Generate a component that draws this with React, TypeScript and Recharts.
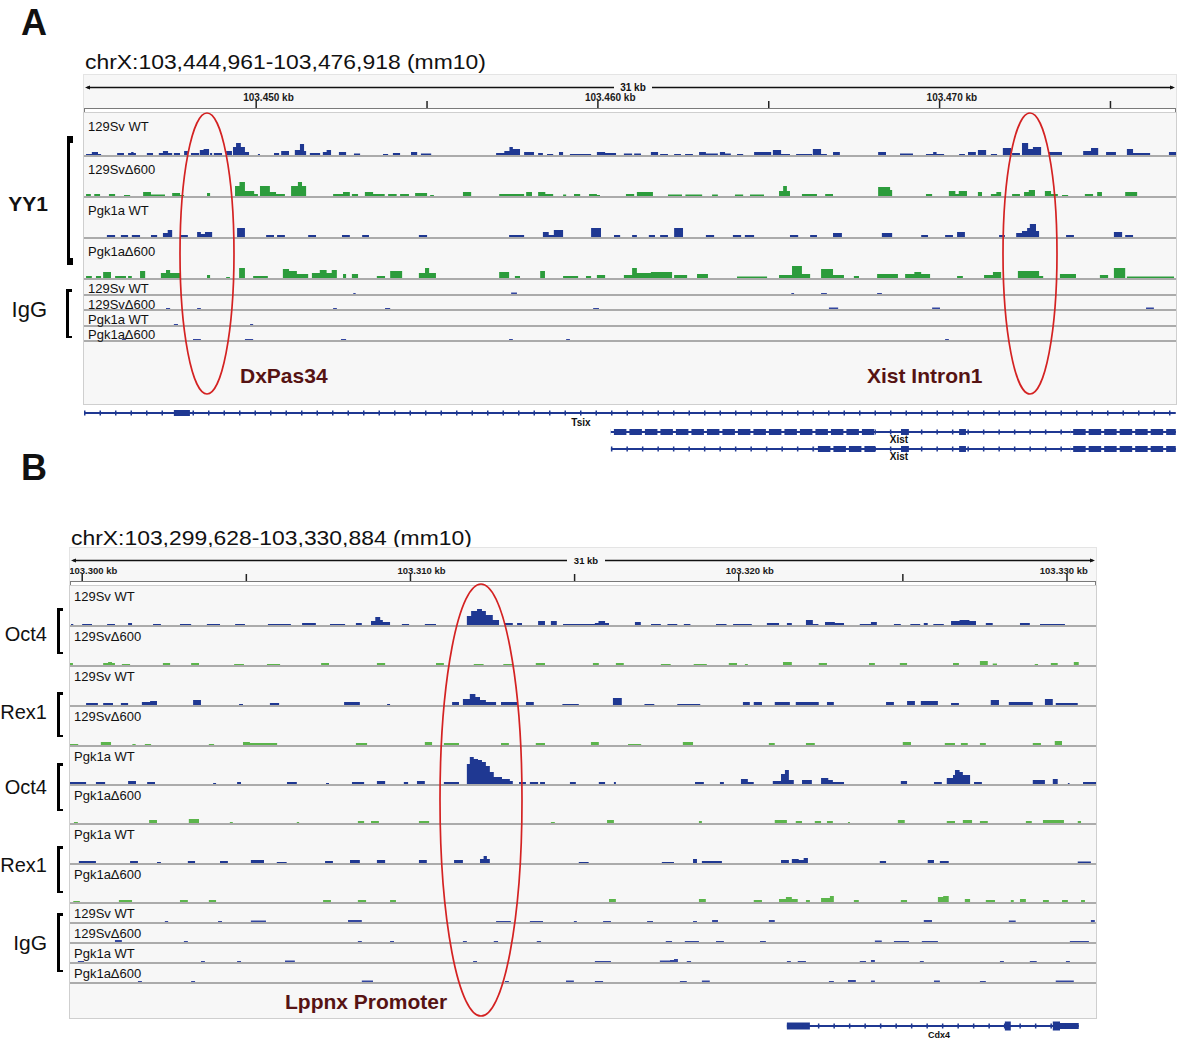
import React from "react";
import {
  AreaChart,
  Area,
  ComposedChart,
  Line,
  XAxis,
  YAxis,
  ReferenceArea,
  ReferenceLine,
} from "recharts";

const FONT = "'Liberation Sans', Arial, Helvetica, sans-serif";

// genomic windows (kb on chrX, mm10)
const A_START = 103444.961;
const A_END = 103476.918;
const A_TICKS = [103450, 103455, 103460, 103465, 103470, 103475];
const B_START = 103299.628;
const B_END = 103330.884;
const B_TICKS = [103300, 103305, 103310, 103315, 103320, 103325, 103330];

// coverage: [kb from window start, signal] — signal holds until the next point
const aYy1Wt129 = [[0.06,1],[0.23,3],[0.41,1],[0.5,0],[0.97,2],[1.17,0],[1.29,2],[1.38,3],[1.45,2],[1.52,0],[1.84,2],[2.02,0],[2.19,2],[2.31,4],[2.46,2],[2.58,0],[2.63,2],[2.81,0],[2.93,4],[3.04,0],[3.13,2],[3.37,0],[3.39,5],[3.5,6],[3.66,0],[3.69,2],[3.75,0],[3.8,2],[4.04,0],[4.16,4],[4.33,0],[4.36,8],[4.45,12],[4.59,8],[4.71,3],[4.83,0],[5.09,1],[5.15,0],[5.56,2],[5.71,0],[5.77,4],[6.0,0],[6.17,5],[6.32,11],[6.44,4],[6.5,0],[6.61,2],[6.91,0],[6.99,3],[7.1,5],[7.23,0],[7.46,3],[7.67,0],[7.9,1.5],[8.08,0],[8.75,1],[8.9,0],[9.04,2],[9.25,0],[9.57,3],[9.75,0],[9.86,1.5],[10.16,0],[12.06,2],[12.3,4],[12.45,8],[12.55,6],[12.76,0],[12.88,3],[13.17,0],[13.29,2],[13.43,0],[13.55,1],[13.73,0],[13.9,3],[14.02,0],[14.22,1],[14.84,0],[15.01,3],[15.25,2],[15.57,0],[15.8,1.5],[16.04,0],[16.1,1.5],[16.3,0],[16.59,3],[16.8,0],[16.86,1],[17.09,0],[17.27,1],[17.47,0],[17.59,1],[17.82,0],[18.0,3],[18.2,1.5],[18.55,0],[18.61,3],[18.76,1.5],[18.93,0],[19.11,1],[19.29,0],[19.61,3],[20.11,0],[20.16,5],[20.4,1],[20.66,0],[20.84,1],[21.31,0],[21.33,6],[21.57,1],[21.74,0],[21.92,3],[22.12,0],[23.24,3],[23.47,0],[23.88,1.5],[24.26,0],[24.64,1],[24.85,3],[24.95,1],[25.17,0],[25.61,1],[25.78,0],[25.87,3],[26.1,0],[26.16,5],[26.4,0],[26.54,1],[26.72,0],[26.89,7],[27.13,0],[27.16,2],[27.39,0],[27.45,12],[27.63,6],[27.77,8],[28.01,0],[28.24,3],[28.62,0],[29.24,4],[29.47,7],[29.68,0],[29.91,3],[30.2,0],[30.52,6],[30.7,2],[31.2,0],[31.75,3]];
const aYy1D129 = [[0.06,2],[0.2,0],[0.3,2],[0.47,0],[0.73,2],[0.91,0],[1.17,1],[1.35,0],[1.73,4],[1.96,1.5],[2.37,0],[2.58,3],[2.81,1],[2.93,0],[3.6,3],[3.69,0],[4.42,10],[4.55,14],[4.71,5],[4.98,2],[5.09,0],[5.15,10],[5.44,4],[5.62,2],[5.88,0],[6.06,10],[6.26,14],[6.38,10],[6.5,0],[7.29,2],[7.58,4],[7.78,0],[7.84,2],[8.02,0],[8.22,4],[8.46,2],[8.8,0],[8.9,2],[9.15,0],[9.25,2],[9.51,0],[9.69,3],[10.04,0],[10.13,1],[10.24,0],[11.09,4],[11.33,0],[12.15,2],[12.88,0],[12.94,4],[13.11,0],[13.29,4],[13.5,2],[13.73,0],[14.02,1.5],[14.11,0],[14.34,2],[14.52,0],[14.78,2],[15.01,1],[15.1,0],[15.86,2],[16.1,0],[16.18,4],[16.65,0],[17.09,1.5],[17.5,0],[17.6,1.5],[18.09,0],[18.38,1.5],[18.55,0],[19.05,1.5],[19.29,0],[19.49,1.5],[19.9,0],[20.34,5],[20.46,10],[20.57,5],[20.66,0],[21.01,2],[21.45,0],[21.69,2],[21.92,0],[23.24,9],[23.59,6],[23.65,0],[24.64,2],[24.82,0],[25.31,5],[25.5,2],[25.6,5],[25.84,0],[26.16,4],[26.28,0],[26.54,2],[26.7,4],[26.84,0],[27.16,2],[27.39,0],[27.51,4],[27.65,6],[27.83,0],[28.12,5],[28.3,2],[28.5,0],[28.62,1],[28.8,0],[29.29,2],[29.53,0],[29.65,4],[29.79,0],[30.47,4],[30.82,0]];
const aYy1WtPgk = [[0.67,2],[0.91,0],[1.08,2],[1.29,0],[1.4,2],[1.64,0],[1.96,2],[2.14,0],[2.31,4],[2.45,7],[2.58,0],[2.81,2],[3.04,0],[3.31,5],[3.42,3],[3.54,5],[3.75,0],[4.48,9],[4.71,0],[5.33,2],[5.56,0],[5.65,2],[5.88,0],[6.56,2],[6.79,0],[7.55,2],[7.78,0],[8.14,2],[8.34,0],[9.8,2],[10.04,0],[12.44,2],[12.88,0],[13.43,5],[13.6,2],[13.75,7],[14.02,0],[14.84,9],[15.13,0],[15.51,2],[15.69,0],[16.04,2],[16.18,0],[16.53,2],[16.71,0],[16.86,2],[17.09,0],[17.27,9],[17.53,0],[18.2,2],[18.44,0],[18.99,2],[19.23,0],[19.34,2],[19.61,0],[20.66,2],[20.9,0],[21.25,2],[21.45,0],[21.92,4],[22.18,0],[23.35,4],[23.65,0],[24.5,2],[24.7,0],[25.2,2],[25.43,0],[25.55,5],[25.78,0],[26.78,2],[26.95,0],[27.28,4],[27.45,6],[27.6,9],[27.68,13],[27.86,6],[27.95,0],[28.74,2],[28.97,0],[30.14,5],[30.38,0],[30.47,2],[30.7,0]];
const aYy1DPgk = [[0.06,2],[0.23,0],[0.35,2],[0.5,0],[0.56,6],[0.79,0],[0.91,2],[1.23,0],[1.29,2],[1.4,0],[1.64,7],[1.79,0],[2.25,5],[2.4,8],[2.52,5],[2.81,0],[3.6,3],[3.69,0],[4.16,1],[4.27,0],[4.54,10],[4.71,0],[4.95,2],[5.38,0],[5.82,9],[6.0,7],[6.23,4],[6.56,0],[6.67,5],[6.9,8],[7.1,5],[7.25,8],[7.4,0],[7.58,4],[7.67,0],[7.84,4],[8.02,0],[8.57,2],[8.81,0],[8.96,7],[9.31,0],[9.8,5],[9.98,10],[10.1,5],[10.3,0],[12.15,6],[12.44,0],[12.61,2],[12.76,0],[13.35,7],[13.49,0],[14.02,2],[14.46,0],[14.69,2],[14.84,0],[15.01,3],[15.25,0],[15.8,3],[16.04,10],[16.18,5],[16.59,6],[17.21,0],[17.27,3],[17.65,0],[17.94,4],[18.26,0],[19.11,1.5],[19.99,0],[20.34,3],[20.72,12],[21.01,4],[21.25,0],[21.57,9],[21.92,3],[22.24,0],[22.53,2],[22.68,0],[23.21,4],[23.82,0],[24.03,4],[24.3,6],[24.5,4],[24.76,0],[25.55,2],[25.72,0],[26.34,3],[26.6,6],[26.84,0],[27.33,7],[27.95,2],[28.07,0],[28.56,4],[29.03,0],[29.73,3],[29.97,0],[30.14,10],[30.47,0],[30.52,1.5],[31.9,0]];
const aIggWt129 = [[7.88,1],[7.95,0],[12.5,1.5],[12.67,0],[20.7,1],[20.78,0],[21.57,1],[21.74,0],[23.21,1],[23.35,0]];
const aIggD129 = [[2.4,1],[2.52,0],[3.31,1],[3.42,0],[7.29,1],[7.4,0],[8.81,1],[8.96,0],[14.9,1],[15.07,0],[21.8,1.5],[22.07,0],[24.82,1.5],[25.05,0],[31.08,1.5],[31.31,0]];
const aIggWtPgk = [[2.63,1],[2.75,0],[4.86,1],[4.95,0]];
const aIggDPgk = [[1.11,1],[1.23,0],[3.19,1],[3.42,0],[4.71,1],[4.95,0],[7.52,1],[7.67,0],[12.44,1],[12.55,0],[14.11,1],[14.22,0],[25.2,1],[25.31,0]];

const bOct4Wt129 = [[0.03,1],[0.1,0],[0.37,1],[0.67,0],[1.13,1],[1.37,0],[1.77,2],[1.89,0],[2.53,1],[2.77,0],[3.35,1],[3.69,0],[4.17,1],[4.57,0],[5.03,1],[5.33,0],[6.03,1],[6.73,0],[7.07,2],[7.49,0],[7.92,1],[8.38,0],[8.71,2],[8.89,0],[9.17,4],[9.3,8],[9.45,5],[9.53,3],[9.75,0],[10.11,1],[10.33,0],[10.81,1],[11.15,0],[12.09,9],[12.22,14],[12.4,16],[12.55,14],[12.67,10],[12.88,5],[13.07,0],[13.25,2],[13.49,0],[13.62,2],[13.77,0],[14.26,4],[14.47,0],[14.65,4],[14.83,0],[15.02,1],[15.99,2],[16.1,4],[16.3,2],[16.42,0],[17.21,3],[17.39,0],[17.7,1],[18.0,0],[18.2,1],[18.5,0],[18.7,1],[18.9,0],[19.68,1],[20.0,0],[20.2,1],[20.77,0],[21.23,2],[21.6,0],[21.84,2],[21.99,0],[22.42,5],[22.63,1],[22.8,0],[23.0,3],[23.3,2],[23.58,0],[24.06,1],[24.4,3],[24.58,0],[25.1,1],[25.31,0],[25.6,1],[25.9,0],[26.01,2],[26.13,0],[26.3,1],[26.62,0],[26.84,4],[27.1,5],[27.4,4],[27.6,0],[27.9,2],[28.11,0],[28.94,2],[29.24,0],[29.55,1],[30.31,0]];
const bOct4D129 = [[0.0,2],[0.09,0],[1.01,2],[1.16,3],[1.28,2],[1.37,0],[1.58,1],[1.83,0],[2.83,2],[3.05,0],[3.69,2],[3.93,0],[5.0,1],[5.3,0],[6.0,1],[6.4,0],[7.65,2],[7.89,0],[9.35,2],[9.6,0],[11.15,2],[11.39,0],[12.3,1],[12.6,0],[13.2,1],[13.5,0],[14.19,2],[14.47,0],[15.93,2],[16.11,0],[16.63,2],[16.87,0],[18.0,1],[18.3,0],[19.0,1],[19.4,0],[20.07,2],[20.32,0],[20.56,1],[20.65,0],[21.72,3],[21.99,0],[22.81,2],[23.06,0],[24.34,2],[24.52,0],[25.28,2],[25.5,0],[26.9,2],[27.08,0],[27.72,4],[27.96,0],[28.11,1.5],[28.24,0],[29.39,1],[29.49,0],[29.88,2],[30.09,0],[30.58,3],[30.73,0]];
const bRex1Wt129 = [[0.49,2],[0.85,0],[1.01,2],[1.31,0],[1.55,2],[1.77,0],[2.19,3],[2.44,4],[2.65,0],[3.75,5],[3.99,0],[5.15,1],[5.27,0],[6.09,2],[6.37,0],[8.35,3],[8.83,0],[9.66,1],[9.75,0],[11.64,3],[11.85,0],[11.97,6],[12.18,11],[12.35,8],[12.49,5],[12.67,3],[12.98,0],[13.13,3],[13.62,0],[13.89,3],[14.13,0],[15.0,1],[15.5,0],[16.54,7],[16.81,0],[17.5,1],[17.8,0],[18.5,1],[19.2,0],[20.5,3],[20.71,0],[20.83,3],[21.08,0],[21.47,3],[21.93,0],[22.11,3],[22.81,0],[23.06,3],[23.27,0],[24.86,3],[25.1,0],[25.5,4],[25.74,0],[25.92,4],[26.44,0],[26.84,2],[27.08,0],[28.05,5],[28.3,0],[28.6,3],[29.33,0],[29.7,6],[29.94,0],[30.03,2],[30.7,0]];
const bRex1D129 = [[0.0,1],[0.25,0],[0.94,3],[1.25,0],[1.9,1],[2.0,0],[2.28,1],[2.47,0],[4.23,1],[4.39,0],[5.27,3],[5.48,2],[6.31,0],[8.71,2],[9.05,0],[10.81,3],[11.03,0],[11.39,2],[11.85,0],[13.13,2],[13.37,0],[14.19,2],[14.47,0],[15.87,3],[16.11,0],[17.0,1],[17.4,0],[18.67,3],[18.98,0],[21.29,2],[21.47,0],[22.42,2],[22.69,0],[25.37,3],[25.62,0],[26.65,2],[26.96,0],[27.14,2],[27.35,0],[27.72,2],[27.9,0],[29.33,2],[29.58,0],[30.0,4],[30.22,0]];
const bOct4WtPgk = [[0.0,2],[0.49,0],[0.79,2],[1.07,0],[1.77,3],[2.01,0],[2.35,2],[2.59,0],[4.36,1],[4.45,0],[5.09,2],[5.21,0],[6.61,2],[6.91,0],[7.8,1],[7.89,0],[8.59,2],[8.96,0],[9.35,3],[9.6,0],[10.17,2],[10.3,0],[10.57,3],[10.81,0],[11.39,2],[11.85,0],[12.09,20],[12.18,27],[12.3,25],[12.43,24],[12.55,22],[12.67,18],[12.79,12],[12.91,7],[13.16,5],[13.4,3],[13.49,0],[13.68,2],[13.89,0],[14.01,2],[14.26,0],[14.32,2],[14.47,0],[15.23,2],[15.41,0],[16.11,2],[16.3,0],[16.57,2],[16.63,0],[19.04,2],[19.31,0],[19.8,2],[19.92,0],[20.44,5],[20.65,2],[20.83,0],[21.41,3],[21.66,10],[21.78,14],[21.9,4],[22.05,0],[22.3,4],[22.6,0],[22.88,6],[23.1,4],[23.24,2],[23.58,0],[25.31,3],[25.5,0],[26.32,2],[26.56,0],[26.71,6],[26.9,9],[26.96,14],[27.1,12],[27.2,9],[27.42,0],[27.54,2],[27.78,0],[29.33,4],[29.7,0],[29.94,5],[30.09,0],[30.4,1],[30.45,0],[30.86,2],[31.28,0]];
const bOct4DPgk = [[0.12,1],[0.24,0],[2.41,3],[2.65,0],[3.62,4],[3.93,0],[4.87,1],[4.96,0],[6.91,1],[6.98,0],[8.77,2],[8.96,0],[9.17,2],[9.41,0],[10.63,2],[10.94,0],[14.65,1],[14.77,0],[16.36,3],[16.57,0],[19.16,2],[19.25,0],[21.47,3],[21.84,0],[22.11,2],[22.3,0],[22.69,2],[22.88,0],[23.06,2],[23.24,0],[23.7,1],[23.76,0],[25.22,3],[25.43,0],[26.71,2],[26.96,0],[27.2,3],[27.48,0],[27.72,2],[27.96,0],[29.12,2],[29.3,0],[29.64,3],[30.28,0],[30.7,2],[30.8,0]];
const bRex1WtPgk = [[0.27,2],[0.79,0],[1.83,2],[2.07,0],[2.65,1],[2.77,0],[3.59,2],[3.81,0],[4.57,2],[4.81,0],[5.51,3],[5.91,0],[6.3,1],[6.6,0],[7.77,2],[8.01,0],[8.53,3],[8.83,0],[9.35,3],[9.6,0],[10.63,3],[10.87,0],[11.7,3],[11.97,0],[12.49,4],[12.6,7],[12.7,4],[12.79,0],[15.5,1],[15.8,0],[18.03,1],[18.4,0],[18.98,4],[19.1,0],[19.25,2],[19.86,0],[21.66,3],[21.9,0],[21.99,4],[22.2,3],[22.35,5],[22.48,0],[24.67,2],[24.86,0],[26.13,3],[26.32,0],[26.5,2],[26.77,0],[30.7,1.5],[31.1,0]];
const bRex1DPgk = [[0.1,1],[0.3,0],[1.49,2],[1.89,0],[3.35,2],[3.59,0],[4.23,2],[4.45,0],[7.71,2],[7.95,0],[8.77,2],[9.02,0],[9.75,2],[9.93,0],[16.42,3],[16.63,0],[19.16,3],[19.37,0],[20.83,2],[21.08,0],[21.6,3],[21.81,5],[21.99,3],[22.17,0],[22.42,2],[22.54,0],[22.88,4],[23.15,6],[23.27,0],[23.88,2],[24.03,0],[25.31,2],[25.5,0],[26.44,5],[26.6,6],[26.77,0],[27.26,3],[27.42,0],[27.9,2],[28.18,0],[28.66,2],[28.75,0],[28.94,3],[29.12,0],[29.64,2],[29.82,0],[30.22,2],[30.4,0],[30.8,2],[30.92,0]];
const bIggWt129 = [[2.89,1],[2.99,0],[4.51,1],[4.63,0],[5.51,1.5],[5.97,0],[8.47,2],[8.89,0],[12.98,1],[13.43,0],[14.01,1],[14.41,0],[15.35,1],[15.44,0],[16.24,1],[16.48,0],[17.58,1],[17.76,0],[18.98,1],[19.1,0],[19.56,2],[19.74,0],[21.29,2],[21.47,0],[26.01,2],[26.26,0],[28.6,1.5],[28.81,0],[31.1,2],[31.22,0]];
const bIggD129 = [[1.37,2],[1.58,0],[3.47,1],[3.59,0],[8.77,1],[8.89,0],[9.75,1],[9.87,0],[11.97,1],[12.09,0],[12.91,1],[13.04,0],[14.22,1],[14.35,0],[18.15,1],[18.34,0],[18.73,1],[19.16,0],[19.68,1],[19.92,0],[21.02,1],[21.2,0],[24.52,1.5],[24.73,0],[25.1,1],[25.56,0],[25.95,1],[26.44,0],[30.46,1],[31.04,0]];
const bIggWtPgk = [[0.24,1],[0.43,0],[3.99,1],[4.11,0],[5.09,1],[5.21,0],[6.55,1.5],[6.85,0],[12.28,1],[12.4,0],[15.99,1],[16.48,0],[17.97,1.5],[18.28,2],[18.4,3],[18.52,0],[18.79,1],[18.92,0],[21.84,1],[21.96,0],[22.17,1],[22.42,0],[24.06,1],[24.25,0],[24.4,2],[24.52,0],[25.89,1],[26.01,0],[28.33,1],[28.45,0],[29.24,1],[29.45,0],[30.34,1],[30.46,0]];
const bIggDPgk = [[2.07,1],[2.19,0],[3.69,1],[3.81,0],[8.89,1.5],[9.23,0],[13.25,1],[13.37,0],[15.11,1.5],[15.35,0],[15.99,1],[16.24,0],[18.58,1],[18.79,0],[19.25,1.5],[19.49,0],[23.12,1],[23.27,0],[23.7,2],[23.94,0],[24.4,1.5],[24.52,0],[26.32,1.5],[26.5,0],[27.72,1],[27.9,0],[30.03,1.5],[30.58,0]];

const aTrackNames = ["129Sv WT", "129Sv\u0394600", "Pgk1a WT", "Pgk1a\u0394600", "129Sv WT", "129Sv\u0394600", "Pgk1a WT", "Pgk1a\u0394600"];
const bTrackNames = ["129Sv WT", "129Sv\u0394600", "129Sv WT", "129Sv\u0394600", "Pgk1a WT", "Pgk1a\u0394600", "Pgk1a WT", "Pgk1a\u0394600", "129Sv WT", "129Sv\u0394600", "Pgk1a WT", "Pgk1a\u0394600"];

// gene models: [from kb, to kb, exon thickness]
const tsixSpan = [0, 31.95];
const tsixExons = [[2.63, 3.1, 6]];
const xistSpan = [15.42, 31.95];
const xist1Exons = [[15.42, 23.15, 6], [23.91, 24.14, 6], [25.61, 25.81, 6], [28.86, 31.95, 6]];
const xist2Exons = [[21.39, 23.15, 6], [23.91, 24.14, 6], [25.61, 25.81, 6], [28.86, 31.95, 6]];
const cdx4Span = [21.84, 30.73];
const cdx4Exons = [[21.84, 22.54, 7], [28.48, 28.66, 9], [29.94, 30.16, 9], [30.16, 30.73, 6]];

const BLUE = "#1f3892";
const GREEN_A = "#2c9c3c";
const GREEN_B = "#5cb54c";
const IGG = "#3447a0";
const GENE = "#1f3892";
const SEP = "#ababab";

function Text({ x, y, size, bold = false, color = "#111", align = "left", sx = 1, children }: any) {
  const style: React.CSSProperties = {
    position: "absolute",
    top: y - size / 2,
    fontSize: size,
    lineHeight: `${size}px`,
    fontWeight: bold ? 700 : 400,
    color,
    whiteSpace: "nowrap",
    fontFamily: FONT,
  };
  if (align === "right") style.right = 1178 - x;
  else if (align === "center") {
    style.left = x;
    style.transform = "translateX(-50%)";
  } else style.left = x;
  if (sx !== 1) {
    style.transform = `scaleX(${sx})`;
    style.transformOrigin = "left center";
  }
  return <div style={style}>{children}</div>;
}

function Track({ pts, start, end, left, width, top, base, color, name, labelDy }: any) {
  const h = base - top - 1;
  const rows = [{ x: start, v: 0 }, ...pts.map(([o, v]: number[]) => ({ x: start + o, v })), { x: end, v: 0 }];
  return (
    <>
      <div style={{ position: "absolute", left, top: top + 1, width, height: h }}>
        <AreaChart width={width} height={h} data={rows} margin={{ top: 0, right: 0, bottom: 0, left: 0 }}>
          <XAxis type="number" dataKey="x" domain={[start, end]} hide allowDataOverflow />
          <YAxis type="number" domain={[0, h]} hide allowDataOverflow />
          <Area type="stepAfter" dataKey="v" stroke="none" fill={color} fillOpacity={1} isAnimationActive={false} />
        </AreaChart>
      </div>
      <div style={{ position: "absolute", left, top: base, width, height: 2, background: SEP }} />
      <Text x={left + 4} y={top + labelDy} size={13}>{name}</Text>
    </>
  );
}

function Ruler({ left, top, width, start, end, ticks, fontSize }: any) {
  const rows = [{ x: start, y: 0 }, { x: end, y: 0 }];
  const tick = (p: any) => {
    const v = p.payload.value;
    if (Math.round(v) % 10 !== 0) return <g />;
    const lw = fontSize * 5.6;
    const lx = Math.min(p.x - 13, width - lw - 3);
    return (
      <text x={lx} y={25.5} fontSize={fontSize} fontWeight={700} fontFamily={FONT} fill="#1a1a1a">
        {`${(v / 1000).toFixed(3)} kb`}
      </text>
    );
  };
  const mid = width / 2 + 3;
  return (
    <div style={{ position: "absolute", left, top, width, height: 38, background: "#f7f7f7", boxShadow: "0 0 0 1px #e4e4e4" }}>
      <svg width={width} height={20} style={{ position: "absolute", left: 0, top: 0 }}>
        <line x1={3} y1={12.5} x2={width - 3} y2={12.5} stroke="#111" strokeWidth={1.4} />
        <path d={`M1,12.5 L6,10.5 L6,14.5 Z`} fill="#111" />
        <path d={`M${width - 1},12.5 L${width - 6},10.5 L${width - 6},14.5 Z`} fill="#111" />
        <rect x={mid - 19} y={6} width={38} height={12} fill="#f7f7f7" />
        <text x={mid} y={16} textAnchor="middle" fontSize={fontSize} fontWeight={700} fontFamily={FONT} fill="#111">31 kb</text>
      </svg>
      <div style={{ position: "absolute", left: 0, top: 0 }}>
        <ComposedChart width={width} height={40} data={rows} margin={{ top: 0, right: 0, bottom: 0, left: 0 }}>
          <XAxis
            type="number"
            dataKey="x"
            domain={[start, end]}
            ticks={ticks}
            interval={0}
            orientation="top"
            height={33}
            tick={tick}
            tickSize={7}
            tickLine={{ stroke: "#222", strokeWidth: 1.5 }}
            axisLine={false}
            allowDataOverflow
          />
          <YAxis hide domain={[0, 1]} />
          <Line dataKey="y" stroke="none" dot={false} isAnimationActive={false} />
        </ComposedChart>
      </div>
      <div style={{ position: "absolute", left: 0, top: 33, width: width - 2, height: 3, background: "#fff", border: "1px solid #7a7a7a" }} />
    </div>
  );
}

function Gene({ left, top, width, start, end, span, exons }: any) {
  const rows = [{ x: start, y: 0 }, { x: end, y: 0 }];
  const seg = (a: number, b: number) => [{ x: start + a, y: 0 }, { x: start + b, y: 0 }];
  return (
    <div style={{ position: "absolute", left, top: top - 6, width, height: 12 }}>
      <ComposedChart width={width} height={12} data={rows} margin={{ top: 0, right: 0, bottom: 0, left: 0 }}>
        <XAxis type="number" dataKey="x" domain={[start, end]} hide />
        <YAxis type="number" domain={[-6, 6]} hide />
        <Line dataKey="y" stroke="none" dot={false} isAnimationActive={false} />
        <ReferenceLine segment={seg(span[0], span[1])} stroke={GENE} strokeWidth={1.8} />
        <ReferenceLine segment={seg(span[0], span[1])} stroke={GENE} strokeWidth={5} strokeDasharray="1.5 14" />
        {exons.map(([a, b, t]: number[], i: number) => (
          <ReferenceArea key={i} x1={start + a} x2={start + b} y1={-t / 2} y2={t / 2} fill={GENE} fillOpacity={1} stroke="none" />
        ))}
        {exons
          .filter(([a, b]: number[]) => b - a > 1)
          .map(([a, b]: number[], i: number) => (
            <ReferenceLine key={`w${i}`} segment={seg(a, b)} stroke="#fff" strokeWidth={7} strokeDasharray="3 12.5" />
          ))}
        {exons
          .filter(([a, b]: number[]) => b - a > 1)
          .map(([a, b]: number[], i: number) => (
            <ReferenceLine key={`c${i}`} segment={seg(a, b)} stroke={GENE} strokeWidth={1.8} />
          ))}
      </ComposedChart>
    </div>
  );
}

function Bracket({ x, y1, y2, capW = 6, thick = 2.5, capH = 2.5 }: any) {
  return (
    <>
      <div style={{ position: "absolute", left: x, top: y1, width: thick, height: y2 - y1, background: "#000" }} />
      <div style={{ position: "absolute", left: x, top: y1, width: capW, height: capH, background: "#000" }} />
      <div style={{ position: "absolute", left: x, top: y2 - capH, width: capW, height: capH, background: "#000" }} />
    </>
  );
}

export default function App() {
  const aData = [aYy1Wt129, aYy1D129, aYy1WtPgk, aYy1DPgk, aIggWt129, aIggD129, aIggWtPgk, aIggDPgk];
  const aColors = [BLUE, GREEN_A, BLUE, GREEN_A, IGG, IGG, IGG, IGG];
  const aBase = [155, 196, 237, 278, 294, 309, 325, 340];
  const aDy = [13, 13, 13, 13, 9, 9, 9, 8];
  const bData = [bOct4Wt129, bOct4D129, bRex1Wt129, bRex1D129, bOct4WtPgk, bOct4DPgk, bRex1WtPgk, bRex1DPgk, bIggWt129, bIggD129, bIggWtPgk, bIggDPgk];
  const bColors = [BLUE, GREEN_B, BLUE, GREEN_B, BLUE, GREEN_B, BLUE, GREEN_B, IGG, IGG, IGG, IGG];
  const bBase = [625, 665, 705, 745, 784, 823, 863, 902, 922, 942, 962, 982];

  return (
    <div style={{ position: "absolute", left: 0, top: 0, width: 1178, height: 1041, background: "#fff", overflow: "hidden", fontFamily: FONT }}>
      {/* Panel A */}
      <Text x={21} y={23} size={36} bold>A</Text>
      <Text x={85} y={61} size={21} sx={1.09}>chrX:103,444,961-103,476,918 (mm10)</Text>
      <Ruler left={84} top={75} width={1092} start={A_START} end={A_END} ticks={A_TICKS} fontSize={10} />
      <div style={{ position: "absolute", left: 84, top: 113, width: 1092, height: 291, background: "#f7f7f7", boxShadow: "0 0 0 1px #cfcfcf" }} />
      {aData.map((pts, i) => (
        <Track key={i} pts={pts} start={A_START} end={A_END} left={84} width={1092} top={i === 0 ? 113 : aBase[i - 1] + 1} base={aBase[i]} color={aColors[i]} name={aTrackNames[i]} labelDy={aDy[i]} />
      ))}
      <Text x={48} y={203} size={21} bold align="right">YY1</Text>
      <div style={{ position: "absolute", left: 67, top: 136, width: 3, height: 129, background: "#000" }} />
      <div style={{ position: "absolute", left: 67, top: 136, width: 6, height: 7, background: "#000" }} />
      <div style={{ position: "absolute", left: 67, top: 258, width: 6, height: 7, background: "#000" }} />
      <Text x={47} y={310} size={22} align="right">IgG</Text>
      <Bracket x={66} y1={289} y2={338} />
      <Text x={240} y={375} size={21} bold color="#561313">DxPas34</Text>
      <Text x={867} y={375} size={21} bold color="#561313">Xist Intron1</Text>
      <Gene left={84} top={413} width={1092} start={A_START} end={A_END} span={tsixSpan} exons={tsixExons} />
      <Text x={581} y={423} size={10} bold align="center">Tsix</Text>
      <Gene left={84} top={432} width={1092} start={A_START} end={A_END} span={xistSpan} exons={xist1Exons} />
      <Text x={899} y={440} size={10} bold align="center">Xist</Text>
      <Gene left={84} top={449} width={1092} start={A_START} end={A_END} span={xistSpan} exons={xist2Exons} />
      <Text x={899} y={457} size={10} bold align="center">Xist</Text>

      {/* Panel B */}
      <Text x={21} y={468} size={36} bold>B</Text>
      <Text x={71} y={537} size={21} sx={1.09}>chrX:103,299,628-103,330,884 (mm10)</Text>
      <Ruler left={70} top={548} width={1026} start={B_START} end={B_END} ticks={B_TICKS} fontSize={9.5} />
      <div style={{ position: "absolute", left: 70, top: 586, width: 1026, height: 432, background: "#f7f7f7", boxShadow: "0 0 0 1px #cfcfcf" }} />
      {bData.map((pts, i) => (
        <Track key={i} pts={pts} start={B_START} end={B_END} left={70} width={1026} top={i === 0 ? 586 : bBase[i - 1] + 1} base={bBase[i]} color={bColors[i]} name={bTrackNames[i]} labelDy={10} />
      ))}
      <Text x={47} y={634} size={20} align="right">Oct4</Text>
      <Bracket x={57} y1={608} y2={654} />
      <Text x={47} y={712} size={20} align="right">Rex1</Text>
      <Bracket x={57} y1={692} y2={737} />
      <Text x={47} y={787} size={20} align="right">Oct4</Text>
      <Bracket x={57} y1={763} y2={811} />
      <Text x={47} y={865} size={20} align="right">Rex1</Text>
      <Bracket x={57} y1={846} y2={893} />
      <Text x={47} y={942} size={21} align="right">IgG</Text>
      <Bracket x={57} y1={913} y2={972} />
      <Text x={285} y={1001} size={21} bold color="#561313">Lppnx Promoter</Text>
      <Gene left={70} top={1026} width={1026} start={B_START} end={B_END} span={cdx4Span} exons={cdx4Exons} />
      <Text x={939} y={1035} size={9} bold align="center">Cdx4</Text>

      <svg width={1178} height={1041} style={{ position: "absolute", left: 0, top: 0, pointerEvents: "none" }}>
        <ellipse cx={207} cy={253.5} rx={27} ry={140.5} fill="none" stroke="#d42222" strokeWidth={1.7} />
        <ellipse cx={1030} cy={253.5} rx={27} ry={140.5} fill="none" stroke="#d42222" strokeWidth={1.7} />
        <ellipse cx={481} cy={800} rx={41} ry={216} fill="none" stroke="#d42222" strokeWidth={1.7} />
      </svg>
    </div>
  );
}
